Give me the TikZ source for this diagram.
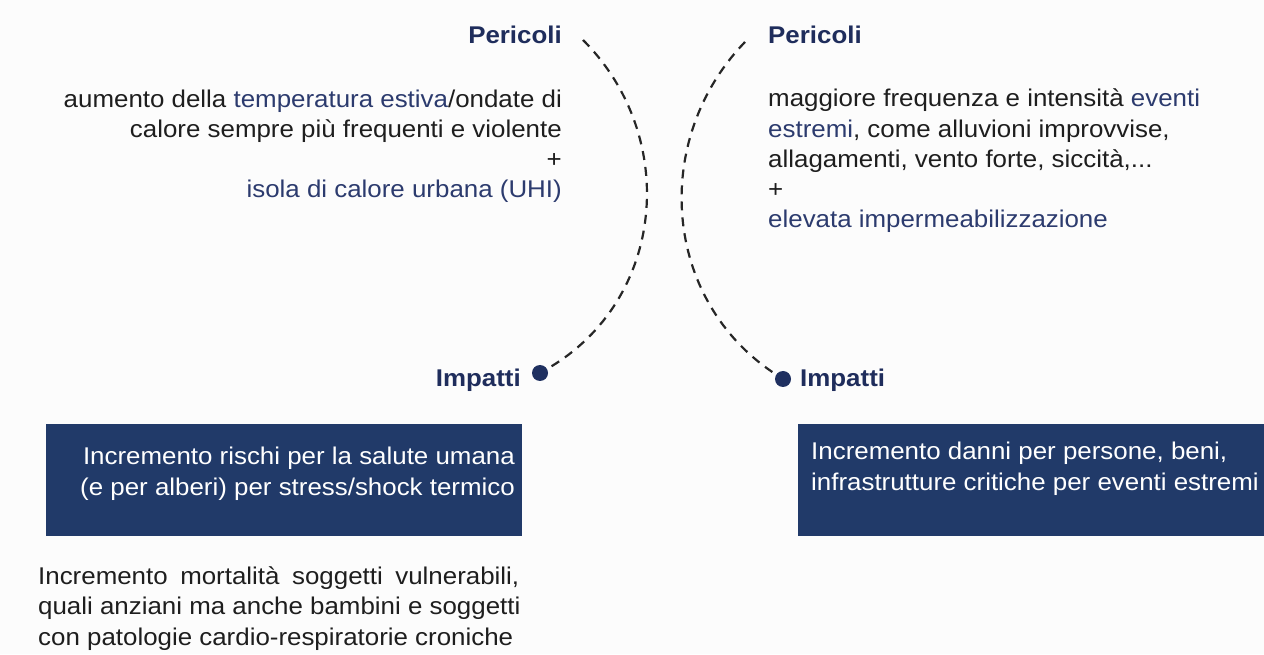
\documentclass[tikz,border=0pt]{standalone}
\usepackage{fontspec}
\setmainfont{Liberation Sans}[FakeStretch=1.07]
\usetikzlibrary{positioning}
\definecolor{navy}{HTML}{1F2D5C}
\definecolor{hl}{HTML}{2C3B6E}
\definecolor{boxc}{HTML}{213A69}
\definecolor{txt}{HTML}{1E1E1E}
\definecolor{dotc}{HTML}{1F3060}
\definecolor{dashc}{HTML}{262626}
\definecolor{bg}{HTML}{FCFCFC}
\tikzset{
  body/.style={font=\fontsize{24.2}{30.3}\selectfont, text=txt, inner sep=0pt},
  head/.style={font=\fontsize{24.2}{30}\selectfont\bfseries, text=navy, inner sep=0pt},
  impbox/.style={rectangle, fill=boxc, draw=none, minimum height=112pt, inner sep=0pt},
  boxtext/.style={font=\fontsize{24.2}{30.3}\selectfont, text=white, inner sep=0pt},
  dotnode/.style={circle, fill=dotc, inner sep=0pt, minimum size=16pt},
  dashline/.style={draw=dashc, line width=2.2pt, dash pattern=on 9pt off 7pt}
}
\newcommand{\hlt}[1]{\textcolor{hl}{#1}}
\begin{document}
\begin{tikzpicture}[x=1pt,y=1pt]
\fill[bg] (0,0) rectangle (1264,654);
\useasboundingbox (0,0) rectangle (1264,654);

% headings
\node[head, anchor=base east] (perL) at (562,610) {Pericoli};
\node[head, anchor=base west] (perR) at (768,610) {Pericoli};

% hazard texts
\node[body, align=right, anchor=base east] (hazL) at (562,456)
  {aumento della \hlt{temperatura estiva}/ondate di\\
   calore sempre più frequenti e violente\\
   +\\
   \hlt{isola di calore urbana (UHI)}};
\node[body, align=left, anchor=base west] (hazR) at (768,426)
  {maggiore frequenza e intensità \hlt{eventi}\\
   \hlt{estremi}, come alluvioni improvvise,\\
   allagamenti, vento forte, siccità,...\\
   +\\
   \hlt{elevata impermeabilizzazione}};

% dots and impact labels
\node[dotnode] (dotL) at (540,281) {};
\node[dotnode] (dotR) at (783,275) {};
\node[head, anchor=base east] (impL) at (521,267) {Impatti};
\node[head, anchor=base west] (impR) at (800,267) {Impatti};

% dashed arcs
\coordinate (pL) at (583,614);
\coordinate (pR) at (745,612);
\draw[dashline] (pL) to[out=-45, in=30, looseness=1.06] (dotL);
\draw[dashline] (pR) to[out=226, in=147, looseness=1.04] (dotR);

% impact boxes
\node[impbox, minimum width=476pt] (boxL) at (284,174) {};
\node[impbox, minimum width=466pt] (boxR) at (1031,174) {};
\node[boxtext, align=right, anchor=base east] (boxLt) at (515,159)
  {Incremento rischi per la salute umana\\
   (e per alberi) per stress/shock termico};
\node[boxtext, align=left, anchor=base west] (boxRt) at (811,164)
  {Incremento danni per persone, beni,\\
   infrastrutture critiche per eventi estremi};

% bottom text
\node[body, align=left, anchor=base west] (mort) at (38,9)
  {\makebox[481pt][s]{Incremento mortalità soggetti vulnerabili,}\\
   quali anziani ma anche bambini e soggetti\\
   con patologie cardio-respiratorie croniche};
\end{tikzpicture}
\end{document}
